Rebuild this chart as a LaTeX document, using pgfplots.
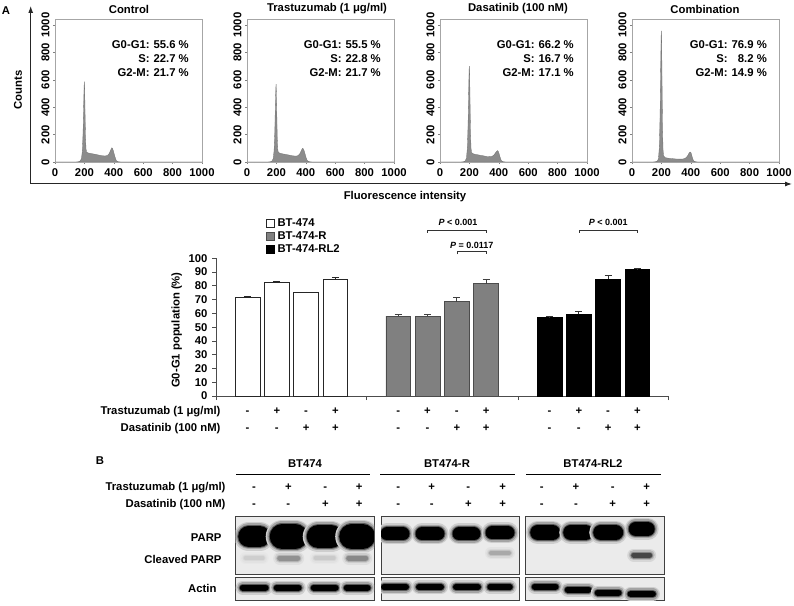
\documentclass[border=0pt]{standalone}
\usepackage{fontspec}
\setmainfont{Liberation Sans}
\usepackage{pgfplots}
\pgfplotsset{compat=1.18}
\usetikzlibrary{arrows.meta}

\newcommand\fs{\fontsize{11.3}{13.8}\selectfont\bfseries}
\newcommand\fsp{\fontsize{9}{11}\selectfont\bfseries}
\colorlet{blotbg}{black!8}

\pgfplotsset{
  hist/.style={scale only axis, width=147pt, height=143pt, anchor=south west,
    xmin=0, xmax=1000, ymin=0, ymax=1044,
    xtick={0,200,...,1000}, ytick={0,200,...,1000},
    minor x tick num=3, tick pos=left,
    axis line style={draw=black!35},
    tick style={draw=black!50, line width=0.4pt},
    major tick length=2pt, minor tick length=1.2pt, tick align=outside,
    ticklabel style={font=\fs},
    /pgf/number format/assume math mode=true,
    /pgf/number format/1000 sep={},
    yticklabel style={rotate=90, anchor=south},
    xticklabel style={yshift=-1pt}},
  histfill/.style={fill=black!45, draw=black!55, line width=0.3pt},
  sqlegend/.style={legend image code/.code={\draw[##1, line width=0.6pt] (0pt,-3.8pt) rectangle (7.6pt,3.8pt);}},
  blot/.style={scale only axis, anchor=south west, width=138.3pt, xmin=0, xmax=138.3,
    xtick=\empty, ytick=\empty, axis background/.style={fill=blotbg},
    axis line style={draw=black!75, line width=0.6pt}},
}
% band: x1, x2, y, thickness, darkness in percent (soft edges from graded strokes)
\newcommand\band[5]{%
  \addplot[draw=black!#5!blotbg!12!blotbg, line width=#4pt+8pt, line cap=round, forget plot] coordinates {(#1,#3) (#2,#3)};
  \addplot[draw=black!#5!blotbg!30!blotbg, line width=#4pt+5pt, line cap=round, forget plot] coordinates {(#1,#3) (#2,#3)};
  \addplot[draw=black!#5!blotbg!62!blotbg, line width=#4pt+2pt, line cap=round, forget plot] coordinates {(#1,#3) (#2,#3)};
  \addplot[draw=black!#5!blotbg, line width=#4pt, line cap=round, forget plot] coordinates {(#1,#3) (#2,#3)};}

\begin{document}
\begin{tikzpicture}[x=1pt,y=1pt]
\useasboundingbox (0pt,0pt) rectangle (794pt,605pt);

% ---------------- Panel A : histograms ----------------
\draw[line width=1pt, black!85, -{Latex[length=7pt,width=5pt]}] (30.7pt,421pt) -- (30.7pt,599pt);
\draw[line width=1pt, black!85, -{Latex[length=7pt,width=5pt]}] (30.7pt,421pt) -- (792pt,421pt);
\node[font=\fs, anchor=base] at (6pt,590pt) {A};
\node[font=\fs, rotate=90] at (18pt,515pt) {Counts};
\node[font=\fs] at (405pt,408pt) {Fluorescence intensity};

\begin{axis}[hist, at={(55pt,443pt)}]
\addplot[histfill] coordinates {(0,0)(140,0)(160,2)(172,8)(180,25)(186,80)(191,220)(195,420)(198,560)(200,586)(202,520)(205,330)(208,170)(211,95)(215,72)(225,66)(240,63)(260,59)(280,55)(300,50)(320,46)(340,44)(355,47)(365,56)(373,72)(380,90)(386,104)(391,100)(396,85)(402,62)(408,38)(414,18)(420,7)(430,2)(445,0.5)(1000,0)} \closedcycle;
\end{axis}
\begin{axis}[hist, at={(247pt,443pt)}]
\addplot[histfill] coordinates {(0,0)(140,0)(160,2)(170,8)(178,25)(184,80)(189,220)(193,420)(196,540)(198,569)(200,510)(203,330)(206,170)(209,95)(213,70)(225,64)(240,60)(260,56)(280,52)(300,47)(320,44)(335,43)(348,47)(358,58)(366,75)(373,92)(379,100)(384,95)(390,78)(396,55)(402,32)(408,15)(415,6)(425,2)(440,0.5)(1000,0)} \closedcycle;
\end{axis}
\begin{axis}[hist, at={(440pt,443pt)}]
\addplot[histfill] coordinates {(0,0)(140,0)(160,2)(172,8)(180,30)(186,100)(191,280)(195,520)(198,680)(200,700)(202,620)(205,400)(208,200)(211,100)(215,70)(225,60)(240,56)(260,52)(280,48)(300,44)(320,40)(340,39)(355,42)(367,52)(377,66)(385,78)(391,83)(396,78)(402,60)(408,38)(414,18)(420,7)(430,2)(445,0.5)(1000,0)} \closedcycle;
\end{axis}
\begin{axis}[hist, at={(632pt,443pt)}]
\addplot[histfill] coordinates {(0,0)(140,0)(160,2)(172,6)(180,25)(186,110)(191,350)(195,700)(198,920)(200,958)(202,850)(205,520)(208,230)(211,90)(215,45)(225,32)(240,29)(260,26)(280,24)(300,22)(320,21)(340,21)(355,24)(368,32)(380,48)(388,65)(395,73)(400,70)(405,55)(410,35)(416,16)(422,6)(432,2)(445,0.5)(1000,0)} \closedcycle;
\end{axis}

\node[font=\fs] at (129pt,596pt) {Control};
\node[font=\fs] at (327pt,596pt) {Trastuzumab (1 μg/ml)};
\node[font=\fs] at (518pt,596pt) {Dasatinib (100 nM)};
\node[font=\fs] at (705pt,596pt) {Combination};

\node[anchor=base east, inner sep=0pt, font=\fs] at (189pt,556pt) {\begin{tabular}[t]{@{}r@{\hspace{4pt}}r@{}}G0-G1: & 55.6 \%\\ S: & 22.7 \%\\ G2-M: & 21.7 \%\end{tabular}};
\node[anchor=base east, inner sep=0pt, font=\fs] at (381pt,556pt) {\begin{tabular}[t]{@{}r@{\hspace{4pt}}r@{}}G0-G1: & 55.5 \%\\ S: & 22.8 \%\\ G2-M: & 21.7 \%\end{tabular}};
\node[anchor=base east, inner sep=0pt, font=\fs] at (574pt,556pt) {\begin{tabular}[t]{@{}r@{\hspace{4pt}}r@{}}G0-G1: & 66.2 \%\\ S: & 16.7 \%\\ G2-M: & 17.1 \%\end{tabular}};
\node[anchor=base east, inner sep=0pt, font=\fs] at (767pt,556pt) {\begin{tabular}[t]{@{}r@{\hspace{4pt}}r@{}}G0-G1: & 76.9 \%\\ S: & 8.2 \%\\ G2-M: & 14.9 \%\end{tabular}};

% ---------------- Bar chart ----------------
\begin{axis}[at={(216pt,209pt)}, anchor=south west, scale only axis, width=452pt, height=137.7pt,
  xmin=0, xmax=452, ymin=0, ymax=100, clip=false,
  axis lines=left, axis line style={-, draw=black!70, line width=0.7pt},
  ytick={0,10,...,100}, tick align=outside, major tick length=4pt,
  tick style={draw=black!70, line width=0.7pt},
  xtick={0,150.7,302.3,452}, xticklabels={},
  ticklabel style={font=\fs}, /pgf/number format/assume math mode=true,
  yticklabel style={xshift=-1pt},
  ylabel={G0-G1 population (\%)}, ylabel style={font=\fs, at={(axis description cs:-0.087,0.479)}, anchor=center},
  legend style={at={(axis description cs:0.111,1.30)}, anchor=north west, draw=none, fill=none,
    font=\fs, inner sep=0pt, row sep=0.6pt, column sep=1.5pt, nodes={inner sep=1.5pt}},
  legend cell align=left,
]
\addplot[ybar, bar width=24.7, bar shift=0pt, fill=white, draw=black!85, line width=0.6pt, sqlegend,
  error bars/.cd, y dir=plus, y explicit, error bar style={black!85, line width=0.7pt},
  error mark options={rotate=90, mark size=3.6pt, line width=0.7pt, black!85}]
  coordinates {(31.5,71.8) +- (0,0.5) (60.8,82.3) +- (0,0.7) (90.1,75.0) +- (0,0.6) (119.4,85.0) +- (0,1.0)};
\addlegendentry{BT-474}
\addplot[ybar, bar width=24.7, bar shift=0pt, fill=black!50, draw=black!70, line width=0.6pt, sqlegend,
  error bars/.cd, y dir=plus, y explicit, error bar style={black!75, line width=0.7pt},
  error mark options={rotate=90, mark size=3.6pt, line width=0.7pt, black!75}]
  coordinates {(182.2,58.0) +- (0,1.0) (211.5,57.8) +- (0,1.5) (240.8,68.5) +- (0,3.0) (270.1,81.5) +- (0,3.0)};
\addlegendentry{BT-474-R}
\addplot[ybar, bar width=24.7, bar shift=0pt, fill=black, draw=black, line width=0.6pt, sqlegend,
  error bars/.cd, y dir=plus, y explicit, error bar style={black!80, line width=0.7pt},
  error mark options={rotate=90, mark size=3.6pt, line width=0.7pt, black!80}]
  coordinates {(333.5,57.0) +- (0,1.0) (362.8,59.3) +- (0,2.5) (392.1,84.8) +- (0,3.0) (421.4,91.7) +- (0,1.2)};
\addlegendentry{BT-474-RL2}
% significance brackets
\draw[black!80, line width=0.6pt] (axis cs:211.5,118.4) -- (axis cs:211.5,120.6) -- (axis cs:270.1,120.6) -- (axis cs:270.1,118.4);
\node[font=\fsp] at (axis cs:242,125.9) {\textit{P} < 0.001};
\draw[black!80, line width=0.6pt] (axis cs:240.8,102.8) -- (axis cs:240.8,104.8) -- (axis cs:270.1,104.8) -- (axis cs:270.1,102.8);
\node[font=\fsp] at (axis cs:255.7,109.7) {\textit{P} = 0.0117};
\draw[black!80, line width=0.6pt] (axis cs:362.8,118.4) -- (axis cs:362.8,120.6) -- (axis cs:421.4,120.6) -- (axis cs:421.4,118.4);
\node[font=\fsp] at (axis cs:392.3,125.9) {\textit{P} < 0.001};
\end{axis}

\node[font=\fs, anchor=base east] at (224pt,190.3pt) {Trastuzumab (1 μg/ml)};
\node[font=\fs, anchor=base east] at (224pt,173.7pt) {Dasatinib (100 nM)};
\foreach \xx/\a/\b in {247.5/-/-, 276.8/+/-, 306.1/-/+, 335.4/+/+, 398.2/-/-, 427.5/+/-, 456.8/-/+, 486.1/+/+, 549.5/-/-, 578.8/+/-, 608.1/-/+, 637.4/+/+}{
  \node[font=\fs, anchor=base] at (\xx pt,190.3pt) {\a};
  \node[font=\fs, anchor=base] at (\xx pt,173.7pt) {\b};
}

% ---------------- Panel B : western blot ----------------
\node[font=\fs, anchor=base] at (100pt,141pt) {B};
\node[font=\fs, anchor=base] at (305pt,138pt) {BT474};
\node[font=\fs, anchor=base] at (447pt,138pt) {BT474-R};
\node[font=\fs, anchor=base] at (593pt,138pt) {BT474-RL2};
\draw[line width=0.8pt] (236pt,131pt) -- (370pt,131pt);
\draw[line width=0.8pt] (380pt,131pt) -- (515pt,131pt);
\draw[line width=0.8pt] (526pt,131pt) -- (661pt,131pt);
\node[font=\fs, anchor=base east] at (229pt,114.3pt) {Trastuzumab (1 μg/ml)};
\node[font=\fs, anchor=base east] at (229pt,97.5pt) {Dasatinib (100 nM)};
\foreach \xx/\a/\b in {254/-/-, 288.3/+/-, 325.3/-/+, 359.2/+/+, 398.3/-/-, 431.7/+/-, 468.3/-/+, 502.7/+/+, 541.7/-/-, 576/+/-, 612.7/-/+, 646.7/+/+}{
  \node[font=\fs, anchor=base] at (\xx pt,114.3pt) {\a};
  \node[font=\fs, anchor=base] at (\xx pt,97.5pt) {\b};
}
\node[font=\fs, anchor=base east] at (225pt,63.5pt) {PARP};
\node[font=\fs, anchor=base east] at (225pt,41.5pt) {Cleaved PARP};
\node[font=\fs, anchor=base east] at (220pt,12.7pt) {Actin};

% PARP / cleaved PARP blots
\begin{axis}[blot, at={(235.7pt,31pt)}, height=58pt, ymin=0, ymax=58]
\band{13}{24}{37.5}{21}{100}
\band{46.5}{59.5}{37.5}{25}{100}
\band{82.5}{95.5}{37.5}{23}{100}
\band{116}{127}{37.5}{25}{100}
\band{10}{27}{16}{4}{12}
\band{44}{62}{16}{5}{38}
\band{80}{98}{16}{4}{14}
\band{113}{130}{16}{5}{42}
\end{axis}
\begin{axis}[blot, at={(381pt,31pt)}, height=58pt, ymin=0, ymax=58]
\band{6}{22}{40}{13}{100}
\band{41}{57}{40}{13}{100}
\band{78}{93}{40}{13}{100}
\band{111}{127}{41}{13}{100}
\band{110}{128}{21}{4}{28}
\end{axis}
\begin{axis}[blot, at={(525.7pt,31pt)}, height=58pt, ymin=0, ymax=58]
\band{12}{27}{41.5}{15}{100}
\band{45}{60}{41.5}{15}{100}
\band{75}{90}{41.5}{15}{100}
\band{110}{122}{45}{14}{100}
\band{108}{124}{19}{5}{70}
\end{axis}
% Actin blots
\begin{axis}[blot, at={(235.7pt,4.5pt)}, height=23pt, ymin=0, ymax=23]
\band{7}{30}{13}{6}{100}
\band{41}{63}{13}{6}{100}
\band{78}{100}{13}{6}{100}
\band{111}{132}{13}{6}{100}
\end{axis}
\begin{axis}[blot, at={(381pt,4.5pt)}, height=23pt, ymin=0, ymax=23]
\band{3}{25}{13.5}{6}{100}
\band{38}{60}{13.5}{6}{100}
\band{75}{97}{13.5}{6}{100}
\band{109}{129}{13.5}{5.5}{100}
\end{axis}
\begin{axis}[blot, at={(525.7pt,4.5pt)}, height=23pt, ymin=0, ymax=23]
\band{9}{30}{14}{6}{100}
\band{42}{63}{11}{6}{100}
\band{72}{93}{8}{6}{100}
\band{105}{127}{6.5}{6.5}{100}
\end{axis}
\end{tikzpicture}
\end{document}
